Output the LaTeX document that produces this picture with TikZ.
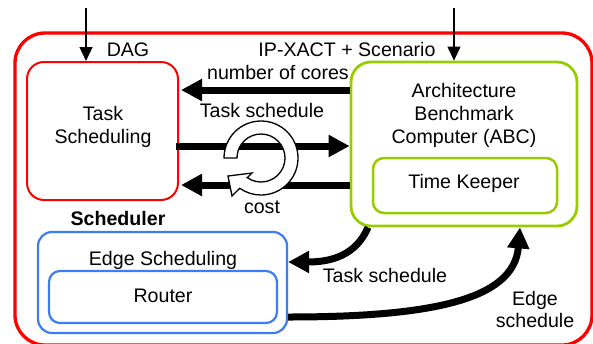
\documentclass[tikz,border=0pt]{standalone}
\usepackage{fontspec}
\setmainfont{Liberation Sans}
\usetikzlibrary{arrows.meta,calc}
\definecolor{myred}{RGB}{255,0,0}
\definecolor{mygreen}{RGB}{153,204,0}
\definecolor{myblue}{RGB}{58,125,245}
\begin{document}
\begin{tikzpicture}[x=1pt,y=-1pt,
  box/.style={draw, rectangle, inner sep=0pt},
  lbl/.style={font=\fontsize{19.6}{23}\selectfont, inner sep=0pt, anchor=base},
  mlbl/.style={font=\fontsize{19.6}{23}\selectfont, inner sep=0pt, anchor=north, align=center},
  thinarrow/.style={-{Triangle[length=14pt,width=13pt]}, line width=1.2pt},
  fatarrow/.style={-{Triangle[length=21pt,width=21pt]}, line width=7pt},
]
\useasboundingbox (0,0) rectangle (593,343);
% boxes
\node[box, draw=myred, line width=3.3pt, rounded corners=30pt, minimum width=577pt, minimum height=312pt] (outer) at (303.5,189) {};
\node[box, draw=myred, line width=2pt, rounded corners=17pt, minimum width=151pt, minimum height=138pt] (ts) at (102.5,131) {};
\node[box, draw=mygreen, line width=2.8pt, rounded corners=20pt, minimum width=226pt, minimum height=164pt] (abc) at (464,144) {};
\node[box, draw=mygreen, line width=2.5pt, rounded corners=11pt, minimum width=184pt, minimum height=55pt] (tk) at (465,185.5) {};
\node[box, draw=myblue, line width=2.2pt, rounded corners=14pt, minimum width=249pt, minimum height=101pt] (es) at (162.5,282.5) {};
\node[box, draw=myblue, line width=2.2pt, rounded corners=11pt, minimum width=228pt, minimum height=52pt] (rt) at (163,297) {};
% input arrows
\coordinate (dagin) at (86,8);
\coordinate (ipin) at (454,8);
\draw[thinarrow] (dagin) -- (dagin |- ts.north);
\draw[thinarrow] (ipin) -- (ipin |- abc.north);
% thick straight arrows
\draw[fatarrow, shorten >=2pt] ([yshift=54pt]abc.west) -- ([yshift=41pt]ts.east);
\draw[fatarrow] ([xshift=-3pt,yshift=-15pt]ts.east) -- ([yshift=-2pt]abc.west);
\draw[fatarrow, shorten >=2pt] ([yshift=-41pt]abc.west) -- ([yshift=-54pt]ts.east);
% loop arrow
\coordinate (loopc) at (261,158);
\draw[fill=white, line width=1.3pt, line join=miter]
  ($(loopc)+(180:37)$) arc[start angle=180, end angle=485, radius=37]
  -- ($(loopc)+(-29,38)$) -- ($(loopc)+(-33,18)$) -- ($(loopc)+(-9,15)$)
  -- ($(loopc)+(485:24)$) arc[start angle=485, end angle=180, radius=24] -- cycle;
% curved arrows
\draw[fatarrow] ([xshift=-96pt]abc.south) .. controls +(-12,28) and +(43,0) .. ([yshift=20.5pt]es.east);
\draw[fatarrow] ([yshift=-34.5pt]es.east) .. controls +(145,0) and +(-6,72) .. ([xshift=56pt]abc.south);
% texts
\node[lbl] (tdag) at (128,56) {DAG};
\node[lbl] (tip) at (347,56) {IP-XACT + Scenario};
\node[lbl] (tnc) at (278,79) {number of cores};
\node[lbl] (tts1) at (262,117) {Task schedule};
\node[lbl] (tcost) at (262,213) {cost};
\node[lbl, font=\fontsize{19.6}{23}\selectfont\bfseries] (tsch) at (118,225) {Scheduler};
\node[mlbl] (tts) at (103,106) {Task\\Scheduling};
\node[mlbl] (tabc) at (464,83) {Architecture\\Benchmark\\Computer (ABC)};
\node[lbl] (ttk) at (464,188) {Time Keeper};
\node[lbl] (tes) at (163,265) {Edge Scheduling};
\node[lbl] (trt) at (163,302) {Router};
\node[lbl] (tts2) at (385,282) {Task schedule};
\node[mlbl, font=\fontsize{19.6}{22}\selectfont] (tesch) at (535,291.5) {Edge\\schedule};
\end{tikzpicture}
\end{document}
